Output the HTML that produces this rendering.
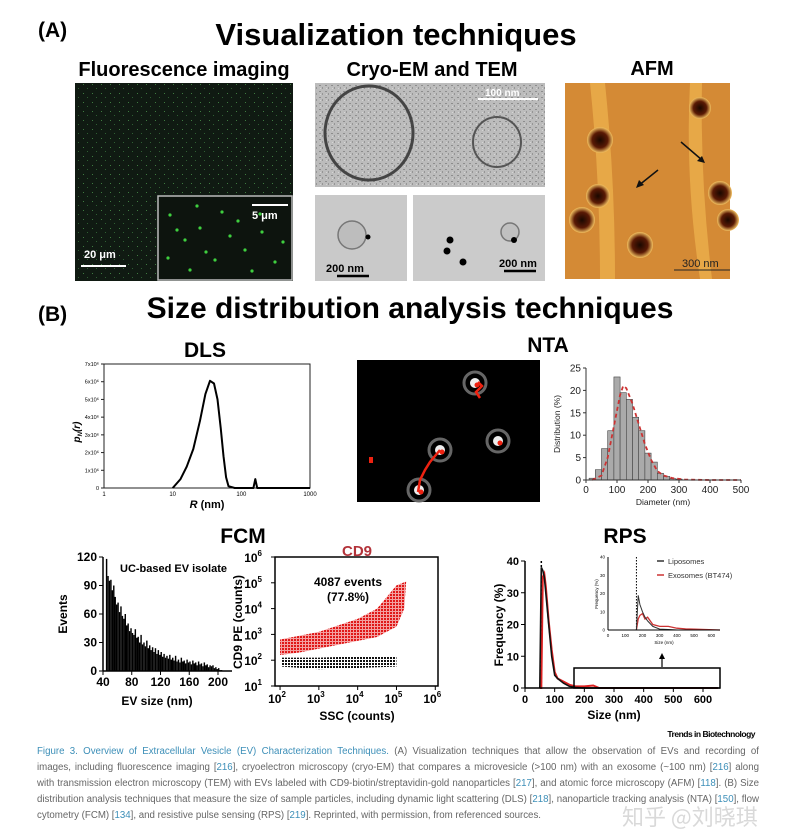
<!DOCTYPE html>
<html><head><meta charset="utf-8">
<style>
html,body{margin:0;padding:0;background:#fff;}
svg{display:block;font-family:"Liberation Sans",Arial,sans-serif;}
.cap{position:absolute;left:37px;top:744px;width:722px;font:9.7px/16px "Liberation Sans",sans-serif;color:#666;}
.cap div{white-space:nowrap;text-align:justify;text-align-last:justify;}
.cap div.last{text-align-last:left;}
.cap b{font-weight:normal;color:#3d8fb8}
.ref{color:#3d8fb8}
.wm{position:absolute;left:622px;top:800px;font:22px "Noto Sans CJK SC","Liberation Sans",sans-serif;color:rgba(180,180,180,0.5);white-space:nowrap;}
</style></head>
<body>
<div style="position:relative;width:788px;height:835px;overflow:hidden">
<svg id="fig" width="788" height="835" viewBox="0 0 788 835">
  <defs>
    <pattern id="grain" width="6" height="6" patternUnits="userSpaceOnUse">
      <rect width="6" height="6" fill="#bcbcbc"/><rect x="1" y="1" width="2" height="1" fill="#8d8d8d"/><rect x="4" y="3" width="1" height="2" fill="#959595"/><rect x="2" y="4" width="1" height="1" fill="#d5d5d5"/>
    </pattern>
    <pattern id="stars" width="9" height="9" patternUnits="userSpaceOnUse">
      <rect width="9" height="9" fill="#101a12"/><rect x="2" y="3" width="1" height="1" fill="#3f7a40"/><rect x="6" y="7" width="1" height="1" fill="#2f5f33"/>
    </pattern>
    <pattern id="reddots" width="3" height="3" patternUnits="userSpaceOnUse">
      <rect x="0" y="0" width="3" height="3" fill="#f3a0a0"/><rect x="0" y="0" width="2" height="2" fill="#e01818"/>
    </pattern>
    <pattern id="blackdots" width="3" height="3" patternUnits="userSpaceOnUse">
      <rect x="0" y="0" width="2" height="2" fill="#111"/>
    </pattern>
    <radialGradient id="afmblob"><stop offset="0" stop-color="#1a0800"/><stop offset="0.6" stop-color="#5a1a05"/><stop offset="1" stop-color="#f3c060"/></radialGradient>
  </defs>

  <text x="38" y="37" font-size="21" font-weight="bold">(A)</text>
  <text x="396" y="45" font-size="31" font-weight="bold" text-anchor="middle">Visualization techniques</text>
  <text x="184" y="76" font-size="20" font-weight="bold" text-anchor="middle">Fluorescence imaging</text>
  <text x="432" y="76" font-size="20" font-weight="bold" text-anchor="middle">Cryo-EM and TEM</text>
  <text x="652" y="75" font-size="20" font-weight="bold" text-anchor="middle">AFM</text>

  <g>
    <rect x="75" y="83" width="218" height="198" fill="url(#stars)"/>
    <rect x="158" y="196" width="134" height="84" fill="#0d140e" stroke="#bbb" stroke-width="1.5"/>
    <g fill="#3fcf3f" id="greendots"></g>
    <line x1="252" y1="205" x2="288" y2="205" stroke="#fff" stroke-width="2"/>
    <text x="252" y="219" fill="#fff" font-size="11" font-weight="bold">5 μm</text>
    <line x1="81" y1="266" x2="126" y2="266" stroke="#fff" stroke-width="2"/>
    <text x="84" y="258" fill="#fff" font-size="11" font-weight="bold">20 μm</text>
  </g>

  <g>
    <rect x="315" y="83" width="230" height="104" fill="url(#grain)"/>
    <ellipse cx="369" cy="133" rx="44" ry="47" fill="none" stroke="#444" stroke-width="3"/>
    <ellipse cx="497" cy="142" rx="24" ry="25" fill="none" stroke="#555" stroke-width="2"/>
    <line x1="478" y1="99" x2="538" y2="99" stroke="#fff" stroke-width="2"/>
    <text x="485" y="96" fill="#fff" font-size="10" font-weight="bold">100 nm</text>
  </g>
  <g>
    <rect x="315" y="195" width="92" height="86" fill="#c9c9c9"/>
    <circle cx="352" cy="235" r="14" fill="#bdbdbd" stroke="#777" stroke-width="1.5"/>
    <circle cx="368" cy="237" r="2.5" fill="#000"/>
    <text x="326" y="272" font-size="11" font-weight="bold">200 nm</text>
    <line x1="337" y1="276" x2="369" y2="276" stroke="#000" stroke-width="2.5"/>
  </g>
  <g>
    <rect x="413" y="195" width="132" height="86" fill="#cbcbcb"/>
    <circle cx="510" cy="232" r="9" fill="#c0c0c0" stroke="#777" stroke-width="1.5"/>
    <circle cx="450" cy="240" r="3.5" fill="#000"/><circle cx="447" cy="251" r="3.5" fill="#000"/><circle cx="463" cy="262" r="3.5" fill="#000"/><circle cx="514" cy="240" r="3" fill="#000"/>
    <text x="499" y="267" font-size="11" font-weight="bold">200 nm</text>
    <line x1="504" y1="271" x2="536" y2="271" stroke="#000" stroke-width="2.5"/>
  </g>

  <g>
    <rect x="565" y="83" width="165" height="196" fill="#d48a35"/>
    <path d="M590 83 Q600 180 600 279 L615 279 Q615 180 605 83Z" fill="#efb550" opacity="0.7"/>
    <path d="M690 83 Q685 180 700 279 L712 279 Q700 180 702 83Z" fill="#efb550" opacity="0.7"/>
    <circle cx="600" cy="140" r="13" fill="url(#afmblob)"/>
    <circle cx="700" cy="108" r="11" fill="url(#afmblob)"/>
    <circle cx="598" cy="196" r="12" fill="url(#afmblob)"/>
    <circle cx="582" cy="220" r="13" fill="url(#afmblob)"/>
    <circle cx="720" cy="193" r="12" fill="url(#afmblob)"/>
    <circle cx="728" cy="220" r="11" fill="url(#afmblob)"/>
    <circle cx="640" cy="245" r="13" fill="url(#afmblob)"/>
    <line x1="658" y1="170" x2="638" y2="186" stroke="#111" stroke-width="1.5"/><path d="M636 188 l3 -8 l5 5z" fill="#111"/>
    <line x1="681" y1="142" x2="702" y2="160" stroke="#111" stroke-width="1.5"/><path d="M705 163 l-8 -2 l5 -5z" fill="#111"/>
    <line x1="674" y1="270" x2="730" y2="270" stroke="#222" stroke-width="1"/>
    <text x="682" y="267" font-size="11" fill="#222">300 nm</text>
  </g>

  <text x="38" y="321" font-size="21" font-weight="bold">(B)</text>
  <text x="410" y="318" font-size="30" font-weight="bold" text-anchor="middle">Size distribution analysis techniques</text>
  <text x="205" y="357" font-size="21" font-weight="bold" text-anchor="middle">DLS</text>
  <text x="548" y="352" font-size="21" font-weight="bold" text-anchor="middle">NTA</text>
  <text x="243" y="543" font-size="21" font-weight="bold" text-anchor="middle">FCM</text>
  <text x="625" y="543" font-size="21" font-weight="bold" text-anchor="middle">RPS</text>

  <g id="dls"></g>

  <g>
    <rect x="357" y="360" width="183" height="142" fill="#000"/>
    <g id="ntaspots"></g>
    <path d="M440 450 L430 462 L425 470 L420 480 L418 492" stroke="#e21" stroke-width="2.5" fill="none"/>
    <path d="M478 382 L482 386 L476 392 L480 398" stroke="#e21" stroke-width="2.5" fill="none"/>
    <rect x="369" y="457" width="4" height="6" fill="#e21"/>
  </g>
  <g id="nta"></g>

  <g id="fcmhist"></g>
  <g id="fcmscatter"></g>
  <g id="rps"></g>

  <text x="755" y="737" font-size="8.5" font-weight="bold" text-anchor="end" letter-spacing="-0.5">Trends in Biotechnology</text>
</svg>
<div class="cap">
<div><b>Figure 3. Overview of Extracellular Vesicle (EV) Characterization Techniques.</b> (A) Visualization techniques that allow the observation of EVs and recording of</div>
<div>images, including fluorescence imaging [<span class="ref">216</span>], cryoelectron microscopy (cryo-EM) that compares a microvesicle (&gt;100 nm) with an exosome (~100 nm) [<span class="ref">216</span>] along</div>
<div>with transmission electron microscopy (TEM) with EVs labeled with CD9-biotin/streptavidin-gold nanoparticles [<span class="ref">217</span>], and atomic force microscopy (AFM) [<span class="ref">118</span>]. (B) Size</div>
<div>distribution analysis techniques that measure the size of sample particles, including dynamic light scattering (DLS) [<span class="ref">218</span>], nanoparticle tracking analysis (NTA) [<span class="ref">150</span>], flow</div>
<div class="last">cytometry (FCM) [<span class="ref">134</span>], and resistive pulse sensing (RPS) [<span class="ref">219</span>]. Reprinted, with permission, from referenced sources.</div>
</div>
<div class="wm">知乎 @刘晓琪</div>
</div>
<script>
const dlsR = [10,13,16,20,25,30,35,40,45,50,55,60,65,80,150,160,170,1000];
const dlsP = [0,0.5,1.2,2.2,3.8,5.3,6.05,5.9,5.0,3.4,1.8,0.6,0.1,0,0,0.5,0,0];
const dlsYTicks = ["0","1x10⁶","2x10⁶","3x10⁶","4x10⁶","5x10⁶","6x10⁶","7x10⁶"];
const dlsXTicks = [1,10,100,1000];

const ntaBins = [20,40,60,80,100,120,140,160,180,200,220,240,260,280,300];
const ntaVals = [0.4,2.3,7,11,23,19.5,18,14,11,6,4,1.5,0.8,0.3,0.2];
const ntaFitX = [20,50,70,90,110,120,130,150,170,190,210,230,250,280,320,400,500];
const ntaFitY = [0,1,5,12,19,21,20.5,17,12.5,8,4.5,2,1,0.4,0.1,0,0];
const ntaXTicks = [0,100,200,300,400,500];
const ntaYTicks = [0,5,10,15,20,25];

const fcmSizes = [];
for (let s = 45; s <= 205; s += 2) fcmSizes.push(s);
const fcmEvents = [118,100,95,96,85,90,78,70,72,62,68,58,55,60,48,50,42,45,40,38,44,35,36,30,38,28,30,26,32,24,27,22,25,20,24,18,22,17,20,15,18,14,16,13,17,12,14,11,16,10,12,9,14,10,11,8,12,9,10,7,11,8,9,6,10,7,8,5,9,6,7,4,6,5,6,3,4,2,3,1,1];
const fcmXTicks = [40,80,120,160,200];
const fcmYTicks = [0,30,60,90,120];

const scatLogTicks = [1,2,3,4,5,6];
const redCloudX = [2.0,2.5,3.0,3.5,4.0,4.5,5.0,5.2,5.25,5.0,4.5,4.0,3.5,3.0,2.5,2.0];
const redCloudY = [2.2,2.3,2.45,2.6,2.75,2.9,3.3,4.0,5.05,4.9,4.0,3.6,3.35,3.1,2.95,2.8];
const blackBandX = [2.05,3.0,4.0,5.0,5.0,4.0,3.0,2.05];
const blackBandY = [1.75,1.65,1.7,1.75,2.15,2.15,2.1,2.1];

const rpsX = [50,55,60,65,70,80,90,100,110,130,150,170,200,230,250,300,650];
const rpsBlack = [0,38,37,35,30,20,10,4,3,1.5,0.5,0.2,0,0,0,0,0];
const rpsRed = [0,0,35,36,32,21,12,5,3,2,1,0.5,0.5,0.8,0,0,0];
const insetX = [165,175,185,200,215,230,260,300,350,400,450,500,650];
const insetBlack = [0,19,14,10,7,5,2,0.5,0.3,0,0,0,0];
const insetRed = [0,6,8,9,6,7,3,2,2,1,0.6,0.5,0];
const rpsXTicks = [0,100,200,300,400,500,600];
const rpsYTicks = [0,10,20,30,40];

const NS = "http://www.w3.org/2000/svg";
function mk(parent, tag, attrs, text) {
  const e = document.createElementNS(NS, tag);
  for (const k in attrs) e.setAttribute(k, attrs[k]);
  if (text !== undefined) e.textContent = text;
  parent.appendChild(e);
  return e;
}
function lin(d0, d1, r0, r1) { return v => r0 + (v - d0) / (d1 - d0) * (r1 - r0); }
function logs(d0, d1, r0, r1) { return v => r0 + (Math.log10(v) - Math.log10(d0)) / (Math.log10(d1) - Math.log10(d0)) * (r1 - r0); }

const gd = document.getElementById('greendots');
[[170,215],[185,240],[200,228],[215,260],[230,236],[245,250],[262,232],[275,262],[190,270],[206,252],[222,212],[168,258],[252,271],[283,242],[238,221],[197,206],[177,230],[260,214]].forEach(p=>{
  const c = mk(gd,'circle',{cx:p[0],cy:p[1],r:1.6});
  
  
});
const ns = document.getElementById('ntaspots');
[[475,383],[440,450],[498,441],[419,490]].forEach(p=>{
  const g = mk(ns,'g',{});
  
  
  mk(g,'circle',{cx:p[0],cy:p[1],r:11,fill:'none',stroke:'#666','stroke-width':3});
  mk(g,'circle',{cx:p[0],cy:p[1],r:5,fill:'#eee'});
  mk(g,'circle',{cx:p[0]+2,cy:p[1]+2,r:2.5,fill:'#e21'});
});

(function(){
  const g = document.getElementById('dls');
  const x = logs(1,1000,104,310), y = lin(0,7,488,364);
  mk(g,'rect',{x:104,y:364,width:206,height:124,fill:'none',stroke:'#222','stroke-width':1});
  dlsYTicks.forEach((t,i)=>{
    mk(g,'line',{x1:104,x2:101,y1:y(i),y2:y(i),stroke:'#222'});
    const tx = mk(g,'text',{x:99,y:y(i)+2,'font-size':5.5,'text-anchor':'end'},t);
    
    
  });
  dlsXTicks.forEach(t=>{
    const tx = mk(g,'text',{x:x(t),y:496,'font-size':6,'text-anchor':'middle'},String(t));
    
    
  });
  const d = dlsR.map((r,i)=>(i?'L':'M')+x(r).toFixed(1)+' '+y(dlsP[i]).toFixed(1)).join(' ');
  const p = mk(g,'path',{d:d,fill:'none',stroke:'#000','stroke-width':2,'stroke-linejoin':'round'});
  
  
  const yl = mk(g,'text',{x:0,y:0,'font-size':10,'font-weight':'bold','font-style':'italic',transform:'translate(80,432) rotate(-90)','text-anchor':'middle'},'p');
  
  
  mk(yl,'tspan',{'font-size':6,dy:2},'N');
  mk(yl,'tspan',{dy:-2},'(r)');
  const xl = mk(g,'text',{x:207,y:508,'font-size':11,'font-weight':'bold','text-anchor':'middle'},'');
  
  
  mk(xl,'tspan',{'font-style':'italic'},'R');
  mk(xl,'tspan',{},' (nm)');
})();

(function(){
  const g = document.getElementById('nta');
  const x = lin(0,500,586,741), y = lin(0,25,480,368);
  ntaBins.forEach((b,i)=>{
    const r = mk(g,'rect',{x:x(b-10),y:y(ntaVals[i]),width:x(b+10)-x(b-10),height:y(0)-y(ntaVals[i]),fill:'#aaa',stroke:'#444','stroke-width':0.6});
    
    
  });
  const d = ntaFitX.map((v,i)=>(i?'L':'M')+x(v).toFixed(1)+' '+y(ntaFitY[i]).toFixed(1)).join(' ');
  const fp = mk(g,'path',{d:d,fill:'none',stroke:'#c33','stroke-width':1.8,'stroke-dasharray':'4 3'});
  
  
  mk(g,'line',{x1:586,x2:741,y1:480,y2:480,stroke:'#333'});
  mk(g,'line',{x1:586,x2:586,y1:368,y2:480,stroke:'#333'});
  ntaXTicks.forEach(t=>{
    mk(g,'line',{x1:x(t),x2:x(t),y1:480,y2:483,stroke:'#333'});
    const tx = mk(g,'text',{x:x(t),y:493,'font-size':10,'text-anchor':'middle',fill:'#222'},String(t));
    
    
  });
  ntaYTicks.forEach(t=>{
    mk(g,'line',{x1:586,x2:583,y1:y(t),y2:y(t),stroke:'#333'});
    const tx = mk(g,'text',{x:581,y:y(t)+3.5,'font-size':10,'text-anchor':'end',fill:'#222'},String(t));
    
    
  });
  const yl = mk(g,'text',{transform:'translate(560,424) rotate(-90)','font-size':8.5,'text-anchor':'middle',fill:'#222'},'Distribution (%)');
  
  
  const xl = mk(g,'text',{x:663,y:505,'font-size':8.5,'text-anchor':'middle',fill:'#222'},'Diameter (nm)');
  
  
})();

(function(){
  const g = document.getElementById('fcmhist');
  const x = lin(40,200,103,218), y = lin(0,120,671,557);
  fcmSizes.forEach((s,i)=>{
    const v = fcmEvents[i] || 0;
    const r = mk(g,'rect',{x:x(s-1),y:y(v),width:x(s+1)-x(s-1),height:y(0)-y(v),fill:'#000'});
    
    
  });
  mk(g,'line',{x1:103,x2:232,y1:671,y2:671,stroke:'#000','stroke-width':1.5});
  mk(g,'line',{x1:103,x2:103,y1:557,y2:671,stroke:'#000','stroke-width':1.5});
  fcmXTicks.forEach(t=>{
    mk(g,'line',{x1:x(t),x2:x(t),y1:671,y2:675,stroke:'#000'});
    const tx = mk(g,'text',{x:x(t),y:686,'font-size':12,'font-weight':'bold','text-anchor':'middle'},String(t));
    
    
  });
  fcmYTicks.forEach(t=>{
    mk(g,'line',{x1:103,x2:99,y1:y(t),y2:y(t),stroke:'#000'});
    const tx = mk(g,'text',{x:97,y:y(t)+4,'font-size':12,'font-weight':'bold','text-anchor':'end'},String(t));
    
    
  });
  const yl = mk(g,'text',{transform:'translate(67,614) rotate(-90)','font-size':12,'font-weight':'bold','text-anchor':'middle'},'Events');
  
  
  const xl = mk(g,'text',{x:157,y:705,'font-size':12,'font-weight':'bold','text-anchor':'middle'},'EV size (nm)');
  
  
  const an = mk(g,'text',{x:120,y:572,'font-size':11,'font-weight':'bold'},'UC-based EV isolate');
  
  
})();

(function(){
  const g = document.getElementById('fcmscatter');
  const x = lin(1.87,6.07,275,438), y = lin(1,6,686,557);
  const t = mk(g,'text',{x:357,y:556,'font-size':15,'font-weight':'bold','text-anchor':'middle',fill:'#b3333a'},'CD9');
  
  
  const bb = mk(g,'polygon',{points:blackBandX.map((v,i)=>x(v)+','+y(blackBandY[i])).join(' '),fill:'url(#blackdots)'});
  
  
  const rc = mk(g,'polygon',{points:redCloudX.map((v,i)=>x(v)+','+y(redCloudY[i])).join(' '),fill:'url(#reddots)'});
  
  
  mk(g,'rect',{x:275,y:557,width:163,height:129,fill:'none',stroke:'#000','stroke-width':1.5});
  scatLogTicks.forEach(k=>{
    if (k>=2){
      mk(g,'line',{x1:x(k),x2:x(k),y1:686,y2:690,stroke:'#000'});
      const tx = mk(g,'text',{x:x(k)-3,y:703,'font-size':12,'font-weight':'bold','text-anchor':'middle'},'10');
      
      
      mk(tx,'tspan',{'font-size':8,dy:-6},String(k));
    }
    mk(g,'line',{x1:275,x2:271,y1:y(k),y2:y(k),stroke:'#000'});
    const ty = mk(g,'text',{x:262,y:y(k)+5,'font-size':12,'font-weight':'bold','text-anchor':'end'},'10');
    
    
    mk(ty,'tspan',{'font-size':8,dy:-6},String(k));
  });
  const yl = mk(g,'text',{transform:'translate(242,622) rotate(-90)','font-size':12,'font-weight':'bold','text-anchor':'middle'},'CD9 PE (counts)');
  
  
  const xl = mk(g,'text',{x:357,y:720,'font-size':12,'font-weight':'bold','text-anchor':'middle'},'SSC (counts)');
  
  
  const a1 = mk(g,'text',{x:348,y:586,'font-size':12,'font-weight':'bold','text-anchor':'middle'},'4087 events');
  
  
  const a2 = mk(g,'text',{x:348,y:601,'font-size':12,'font-weight':'bold','text-anchor':'middle'},'(77.8%)');
  
  
})();

(function(){
  const g = document.getElementById('rps');
  const x = lin(0,600,525,703), y = lin(0,40,688,561);
  const path = (xs,ys,fx,fy)=>xs.map((v,i)=>(i?'L':'M')+fx(v).toFixed(1)+' '+fy(ys[i]).toFixed(1)).join(' ');
  mk(g,'line',{x1:x(55),x2:x(55),y1:y(40),y2:688,stroke:'#000','stroke-width':1.5,'stroke-dasharray':'2 2'});
  const r = mk(g,'path',{d:path(rpsX,rpsRed,x,y),fill:'none',stroke:'#d22','stroke-width':2});
  
  
  const b = mk(g,'path',{d:path(rpsX,rpsBlack,x,y),fill:'none',stroke:'#111','stroke-width':1.6});
  
  
  mk(g,'line',{x1:525,x2:720,y1:688,y2:688,stroke:'#000','stroke-width':1.5});
  mk(g,'line',{x1:525,x2:525,y1:561,y2:688,stroke:'#000','stroke-width':1.5});
  rpsXTicks.forEach(t=>{
    mk(g,'line',{x1:x(t),x2:x(t),y1:688,y2:692,stroke:'#000'});
    const tx = mk(g,'text',{x:x(t),y:703,'font-size':11,'font-weight':'bold','text-anchor':'middle'},String(t));
    
    
  });
  rpsYTicks.forEach(t=>{
    mk(g,'line',{x1:525,x2:521,y1:y(t),y2:y(t),stroke:'#000'});
    const tx = mk(g,'text',{x:519,y:y(t)+4,'font-size':11,'font-weight':'bold','text-anchor':'end'},String(t));
    
    
  });
  const yl = mk(g,'text',{transform:'translate(503,625) rotate(-90)','font-size':12,'font-weight':'bold','text-anchor':'middle'},'Frequency  (%)');
  
  
  const xl = mk(g,'text',{x:614,y:719,'font-size':12,'font-weight':'bold','text-anchor':'middle'},'Size (nm)');
  
  
  const zb = mk(g,'rect',{x:574,y:668,width:146,height:20,fill:'none',stroke:'#000','stroke-width':1.5});
  
  
  mk(g,'line',{x1:662,x2:662,y1:667,y2:657,stroke:'#000','stroke-width':1.2});
  mk(g,'path',{d:'M659 659 L662 653 L665 659Z',fill:'#000'});
  const ix = lin(0,650,608,720), iy = lin(0,40,630,557);
  mk(g,'line',{x1:ix(165),x2:ix(165),y1:557,y2:630,stroke:'#000','stroke-width':1,'stroke-dasharray':'1.5 1.5'});
  const ir = mk(g,'path',{d:path(insetX,insetRed,ix,iy),fill:'none',stroke:'#c33','stroke-width':1.3});
  
  
  const ib = mk(g,'path',{d:path(insetX,insetBlack,ix,iy),fill:'none',stroke:'#333','stroke-width':1});
  
  
  mk(g,'line',{x1:608,x2:720,y1:630,y2:630,stroke:'#000'});
  mk(g,'line',{x1:608,x2:608,y1:557,y2:630,stroke:'#000'});
  [0,100,200,300,400,500,600].forEach(t=>{
    const tx = mk(g,'text',{x:ix(t),y:637,'font-size':4.5,'text-anchor':'middle'},String(t));
    
    
  });
  [0,10,20,30,40].forEach(t=>{
    const tx = mk(g,'text',{x:605,y:iy(t)+1.5,'font-size':4.5,'text-anchor':'end'},String(t));
    
    
  });
  mk(g,'text',{x:664,y:644,'font-size':4.5,'text-anchor':'middle'},'Size (nm)');
  mk(g,'text',{transform:'translate(598,594) rotate(-90)','font-size':4.5,'text-anchor':'middle'},'Frequency (%)');
  const l1 = mk(g,'g',{});
  
  
  mk(l1,'line',{x1:657,x2:664,y1:561,y2:561,stroke:'#333','stroke-width':1.5});
  mk(l1,'text',{x:668,y:564,'font-size':7.5,fill:'#333'},'Liposomes');
  const l2 = mk(g,'g',{});
  
  
  mk(l2,'line',{x1:657,x2:664,y1:575,y2:575,stroke:'#c33','stroke-width':1.5});
  mk(l2,'text',{x:668,y:578,'font-size':7.5,fill:'#333'},'Exosomes (BT474)');
})();
</script>
</body></html>
